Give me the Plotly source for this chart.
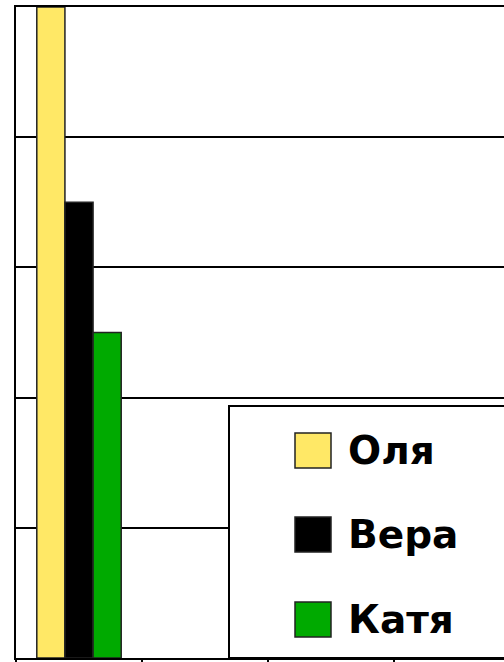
import plotly.graph_objects as go

# ---- data ----
names = ["Оля", "Вера", "Катя"]
values = [5, 3.5, 2.5]
colors = ["#FFE866", "#000000", "#00AA00"]
category = [0]

W, H = 504, 662
L, T, B = 16, 7, 4
plot_w = W - L
plot_h = H - T - B
cat_px = 126.0

def px_x(x):
    return (x - L) / plot_w

def px_y(y):
    return (H - B - y) / plot_h

fig = go.Figure()
for n, v, c in zip(names, values, colors):
    fig.add_trace(go.Bar(
        x=category, y=[v], name=n, marker=dict(color=c, line=dict(color="#222222", width=1.5)),
        showlegend=False,
    ))

xmax = -0.5 + plot_w / cat_px
fig.update_layout(
    width=W, height=H,
    margin=dict(l=L, r=0, t=T, b=B, pad=0),
    barmode="group", bargap=0.33, bargroupgap=0,
    plot_bgcolor="white", paper_bgcolor="white",
    xaxis=dict(range=[-0.5, xmax], tickvals=[-0.5, 0.5, 1.5, 2.5], showticklabels=False,
               ticks="outside", ticklen=3, tickcolor="black", tickwidth=1.5,
               showline=True, linecolor="black", linewidth=2, mirror=True,
               showgrid=False, zeroline=False),
    yaxis=dict(range=[0, 5], dtick=1, showticklabels=False, showgrid=True, gridcolor="black",
               gridwidth=1.5, showline=True, linecolor="black", linewidth=2, mirror=False,
               zeroline=False, ticks=""),
)

# legend box (manual, large items)
fig.add_shape(type="rect", xref="paper", yref="paper", x0=px_x(229), x1=1.2, y0=0, y1=px_y(406),
              fillcolor="white", line=dict(color="black", width=2), layer="above")
sq_tops = [433, 517, 602]
for n, c, top in zip(names, colors, sq_tops):
    fig.add_shape(type="rect", xref="paper", yref="paper", x0=px_x(295), x1=px_x(331),
                  y0=px_y(top + 35), y1=px_y(top), fillcolor=c,
                  line=dict(color="#222222", width=1.5), layer="above")
    fig.add_annotation(xref="paper", yref="paper", x=px_x(346), y=px_y(top + 17.5),
                       xanchor="left", yanchor="middle", text=n, showarrow=False,
                       font=dict(family="DejaVu Sans", size=39, color="black", weight="bold"))

fig.write_html("out.html", config={"displayModeBar": False},
               post_script="document.body.style.margin='0';document.body.style.overflow='hidden';")
